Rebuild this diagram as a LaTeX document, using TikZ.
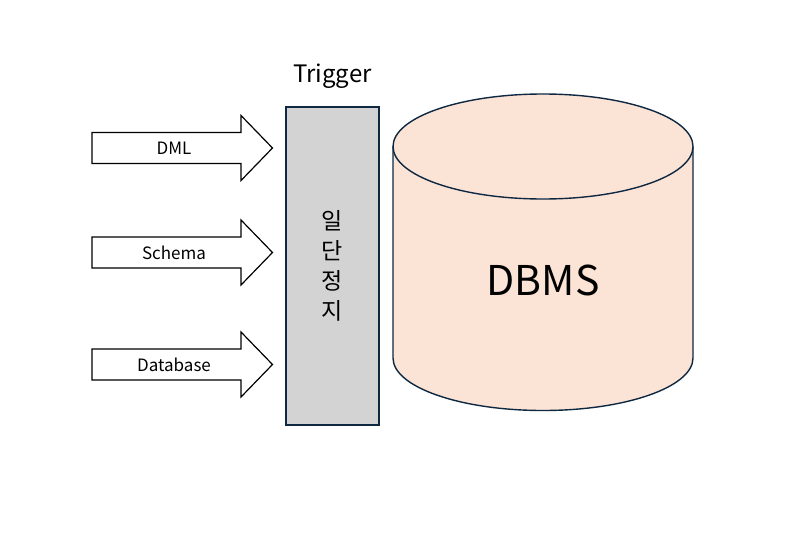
\documentclass[tikz,border=0pt]{standalone}
\usepackage{fontspec}
\setmainfont{Noto Sans CJK KR}
\usetikzlibrary{arrows.meta}
\definecolor{edgeblue}{HTML}{0E2841}
\definecolor{boxgray}{HTML}{D3D3D3}
\definecolor{dbpeach}{HTML}{FBE3D6}

\begin{document}
\begin{tikzpicture}[x=1pt,y=-1pt,line width=1.4pt]
	\useasboundingbox (0,0) rectangle (799,535);
	% input arrows
	\foreach \name/\txt/\yc in {dml/DML/148, schema/Schema/252.5, database/Database/364.5}{
		\draw [line width=1.2pt,fill=white] (92,\yc-15.5) -- (241,\yc-15.5) -- (241,\yc-32.5) -- (272.5,\yc)
			-- (241,\yc+32.5) -- (241,\yc+15.5) -- (92,\yc+15.5) -- cycle;
		\node (\name) at (174,\yc) [font=\fontsize{17}{20}\selectfont] {\txt};
	}
	% trigger
	\node (trigger) at (332.5,266) [rectangle,draw=edgeblue,fill=boxgray,minimum width=93,minimum height=318,inner sep=0pt] {};
	\node (trigname) at (332.5,76) [font=\fontsize{24}{28}\selectfont] {Trigger};
	\node (stop) at (trigger.center) [align=center,font=\fontsize{23}{30}\selectfont] {일\\단\\정\\지};
	% dbms cylinder
	\fill [dbpeach] (393,146.5) -- (393,358) arc [start angle=180,end angle=0,x radius=150,y radius=52.5]
		-- (693,146.5) -- cycle;
	\draw [edgeblue] (393,146.5) -- (393,358) arc [start angle=180,end angle=0,x radius=150,y radius=52.5]
		-- (693,146.5);
	\draw [edgeblue,fill=dbpeach] (543,146.5) ellipse [x radius=150,y radius=52.5];
	\node (dbms) at (543,280) [font=\fontsize{41}{48}\selectfont] {DBMS};
\end{tikzpicture}
\end{document}
